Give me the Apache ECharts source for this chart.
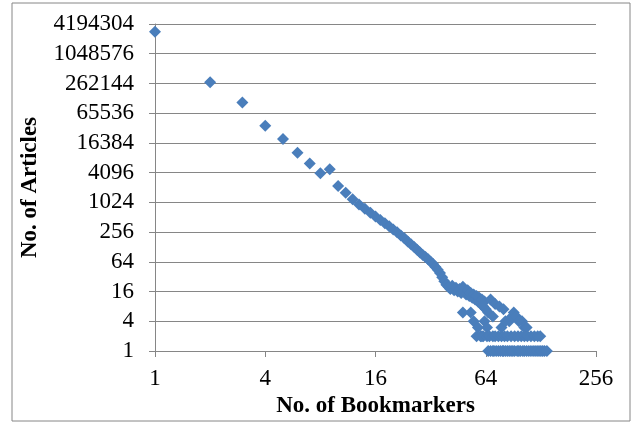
<!DOCTYPE html>
<html>
<head>
<meta charset="utf-8">
<script src="https://cdn.jsdelivr.net/npm/echarts@6/dist/echarts.min.js"></script>
<style>
html,body{margin:0;padding:0;background:#fff;}
#chart{width:632px;height:423px;}
</style>
</head>
<body>
<div id="chart"></div>
<script>
// Main sequence: number of bookmarkers -> number of articles
var bookmarkers = [1,2,3,4,5,6,7,8,9,10,11,12,13,14,15,16,17,18,19,20,
  21,22,23,24,25,26,27,28,29,30,31,32,33,34,35,36,37,38,39,40,
  41,42,43,44,45,46,47,48,49,50,51,52,53,54,55,56,57,58,59,60,
  61,62,63,64,66,68,70,72,76,80];
var articles = [2930000,277000,108000,36600,19600,10400,6300,4000,4800,2200,1600,1180,930,760,630,530,450,385,335,290,
  255,218,192,165,146,128,112,99,88,80,72,64,58,50,44,38,31,26,22,20,
  18,21,17,19,16,18,15,20,16,14,17,13,15,12,14,11,13,10,12,9,
  11,8,10,7,6,11,5,9,8,7];
// Sparse tail points
var tailBookmarkers = [48,53,55,58,61,63,65,
  78,82,86,89,91,94,97,101,104,107,
  57,60,62,65,67,70,72,75,78,81,84,88,92,96,100,104,108,113,118,123,127,
  66,68,70,71,73,75,77,79,80,82,84,86,88,90,92,95,97,99,102,104,107,110,113,116,119,122,125,128,131,134,138];
var tailArticles = [6,6,4,3,2,4,3,
  3,4,4,5,6,5,4,4,3,3,
  2,2,2,2,2,2,2,2,2,2,2,2,2,2,2,2,2,2,2,2,2,
  1,1,1,1,1,1,1,1,1,1,1,1,1,1,1,1,1,1,1,1,1,1,1,1,1,1,1,1,1,1,1];
var xTicks = [1,4,16,64,256];
var yTicks = [1,4,16,64,256,1024,4096,16384,65536,262144,1048576,4194304];

var pts = [];
for (var i = 0; i < bookmarkers.length; i++) pts.push([bookmarkers[i], articles[i]]);
for (var j = 0; j < tailBookmarkers.length; j++) pts.push([tailBookmarkers[j], tailArticles[j]]);

function nearestTick(v, ticks) {
  var best = ticks[0];
  for (var k = 0; k < ticks.length; k++) {
    if (Math.abs(Math.log(ticks[k]) - Math.log(v)) < Math.abs(Math.log(best) - Math.log(v))) best = ticks[k];
  }
  return String(best);
}

var chart = echarts.init(document.getElementById('chart'), null, {renderer: 'canvas'});
var gridColor = '#868686';
var font = 'Liberation Serif, Times New Roman, serif';
chart.setOption({
  animation: false,
  backgroundColor: '#ffffff',
  graphic: [{
    type: 'rect',
    shape: {x: 12, y: 3, width: 618, height: 418},
    style: {fill: 'none', stroke: '#868686', lineWidth: 1},
    silent: true
  }],
  grid: {left: 155, right: 36, top: 24, bottom: 72, containLabel: false},
  xAxis: {
    type: 'log', logBase: 4, min: xTicks[0], max: xTicks[xTicks.length - 1],
    interval: 1, splitNumber: 4,
    name: 'No. of Bookmarkers', nameLocation: 'middle', nameGap: 42,
    nameTextStyle: {fontFamily: font, fontSize: 23, fontWeight: 'bold', color: '#000'},
    axisLine: {show: true, lineStyle: {color: gridColor, width: 1}},
    axisTick: {show: true, length: 6, lineStyle: {color: gridColor}},
    axisLabel: {fontFamily: font, fontSize: 23, color: '#000', margin: 16,
      formatter: function (v) { return nearestTick(v, xTicks); }},
    splitLine: {show: false}, minorTick: {show: false}
  },
  yAxis: {
    type: 'log', logBase: 4, min: yTicks[0], max: yTicks[yTicks.length - 1],
    interval: 1, splitNumber: 11,
    name: 'No. of Articles', nameLocation: 'middle', nameGap: 113,
    nameTextStyle: {fontFamily: font, fontSize: 23, fontWeight: 'bold', color: '#000'},
    axisLine: {show: true, lineStyle: {color: gridColor, width: 1}},
    axisTick: {show: true, length: 6, lineStyle: {color: gridColor}},
    axisLabel: {fontFamily: font, fontSize: 23, color: '#000', margin: 21,
      formatter: function (v) { return nearestTick(v, yTicks); }},
    splitLine: {show: true, lineStyle: {color: gridColor, width: 1}}
  },
  series: [{
    type: 'scatter',
    data: pts,
    symbol: 'diamond',
    symbolSize: 12,
    itemStyle: {color: '#4A7EBB', opacity: 1},
    silent: true
  }]
});
</script>
</body>
</html>
